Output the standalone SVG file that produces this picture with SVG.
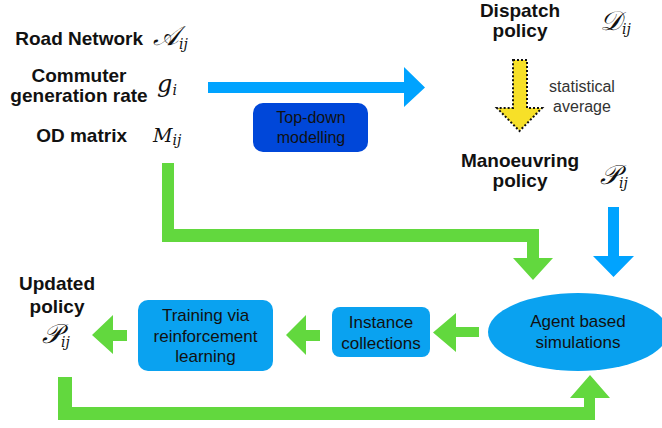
<svg xmlns="http://www.w3.org/2000/svg" width="662" height="428" viewBox="0 0 662 428">
<defs>
<style>
.lbl{font-family:"Liberation Sans",Arial,sans-serif;font-weight:bold;font-size:19px;fill:#111;text-anchor:middle}
.box{font-family:"Liberation Sans",Arial,sans-serif;font-size:17px;fill:#111;text-anchor:middle}
.note{font-family:"Liberation Sans",Arial,sans-serif;font-size:16px;fill:#333;text-anchor:middle}
.math{font-family:"DejaVu Serif","Liberation Serif",serif;font-style:italic;font-size:22px;fill:#111}
.scr{font-size:27px}
.sub{font-size:14px}
.green{fill:#62d83e}
.blue{fill:#00a3ff}
</style>
</defs>
<rect width="662" height="428" fill="#fff"/>
<g id="connectors">
<polygon class="blue" points="208,82 404,82 404,67 425,87.5 404,107 404,93 208,93"/>
<polygon class="blue" points="608,207 619,207 619,256 634,256 613.5,277 593,256 608,256"/>
<polygon fill="#f7e028" stroke="#111" stroke-width="2" stroke-dasharray="2,2" points="513,60 527,60 527,108 542,108 519.5,131 497,108 513,108"/>
<polygon class="green" points="162,163 174,163 174,229 539,229 539,258 553,258 533,280 513,258 527,258 527,242 162,242"/>
<polygon class="green" points="58,377 72,377 72,407 584,407 584,398 570,398 590,375 610,398 595,398 595,420 58,420"/>
<polygon class="green" points="479,327 456,327 456,313 433,332.5 456,352 456,337 479,337"/>
<polygon class="green" points="320,330 306,330 306,315 286,335 306,355 306,341 320,341"/>
<polygon class="green" points="127,330 113,330 113,315 92,335 113,354 113,341 127,341"/>
</g>
<g id="road-network">
<text class="lbl" x="143" y="45" style="text-anchor:end">Road Network</text>
<text class="math" x="153" y="45"><tspan class="scr">𝒜</tspan><tspan class="sub" dy="4">ij</tspan></text>
</g>
<g id="commuter-rate">
<text class="lbl" x="79" y="82">Commuter</text>
<text class="lbl" x="79" y="102">generation rate</text>
<text class="math" x="157" y="92" style="font-size:24px">g<tspan class="sub" dy="3">i</tspan></text>
</g>
<g id="od-matrix">
<text class="lbl" x="127" y="142" style="text-anchor:end">OD matrix</text>
<text class="math" x="153" y="142" style="font-size:19px">M<tspan class="sub" dy="3">ij</tspan></text>
</g>
<g id="top-down">
<rect x="253" y="103" width="115" height="49" rx="10" fill="#0047d9"/>
<text class="box" x="311" y="123" style="font-size:16px">Top-down</text>
<text class="box" x="311" y="143" style="font-size:16px">modelling</text>
</g>
<g id="dispatch">
<text class="lbl" x="520" y="17">Dispatch</text>
<text class="lbl" x="520" y="37">policy</text>
<text class="math" x="600" y="30"><tspan class="scr">𝒟</tspan><tspan class="sub" dy="4">ij</tspan></text>
</g>
<g id="stat-average">
<text class="note" x="582" y="92">statistical</text>
<text class="note" x="582" y="112">average</text>
</g>
<g id="manoeuvring">
<text class="lbl" x="520" y="167">Manoeuvring</text>
<text class="lbl" x="520" y="187">policy</text>
<text class="math" x="600" y="184"><tspan class="scr">𝒫</tspan><tspan class="sub" dy="4">ij</tspan></text>
</g>
<g id="agent-sim">
<ellipse cx="578" cy="332" rx="90" ry="39" fill="#0aa2f0"/>
<text class="box" x="578" y="327">Agent based</text>
<text class="box" x="578" y="348">simulations</text>
</g>
<g id="instance">
<rect x="332" y="307" width="98" height="50" rx="8" fill="#0aa2f0"/>
<text class="box" x="381" y="328">Instance</text>
<text class="box" x="381" y="349">collections</text>
</g>
<g id="training">
<rect x="138" y="300" width="135" height="71" rx="10" fill="#0aa2f0"/>
<text class="box" x="205.5" y="321">Training via</text>
<text class="box" x="205.5" y="342">reinforcement</text>
<text class="box" x="205.5" y="362">learning</text>
</g>
<g id="updated">
<text class="lbl" x="57" y="290">Updated</text>
<text class="lbl" x="57" y="313">policy</text>
<text class="math" x="42" y="343"><tspan class="scr">𝒫</tspan><tspan class="sub" dy="4">ij</tspan></text>
</g>
</svg>
